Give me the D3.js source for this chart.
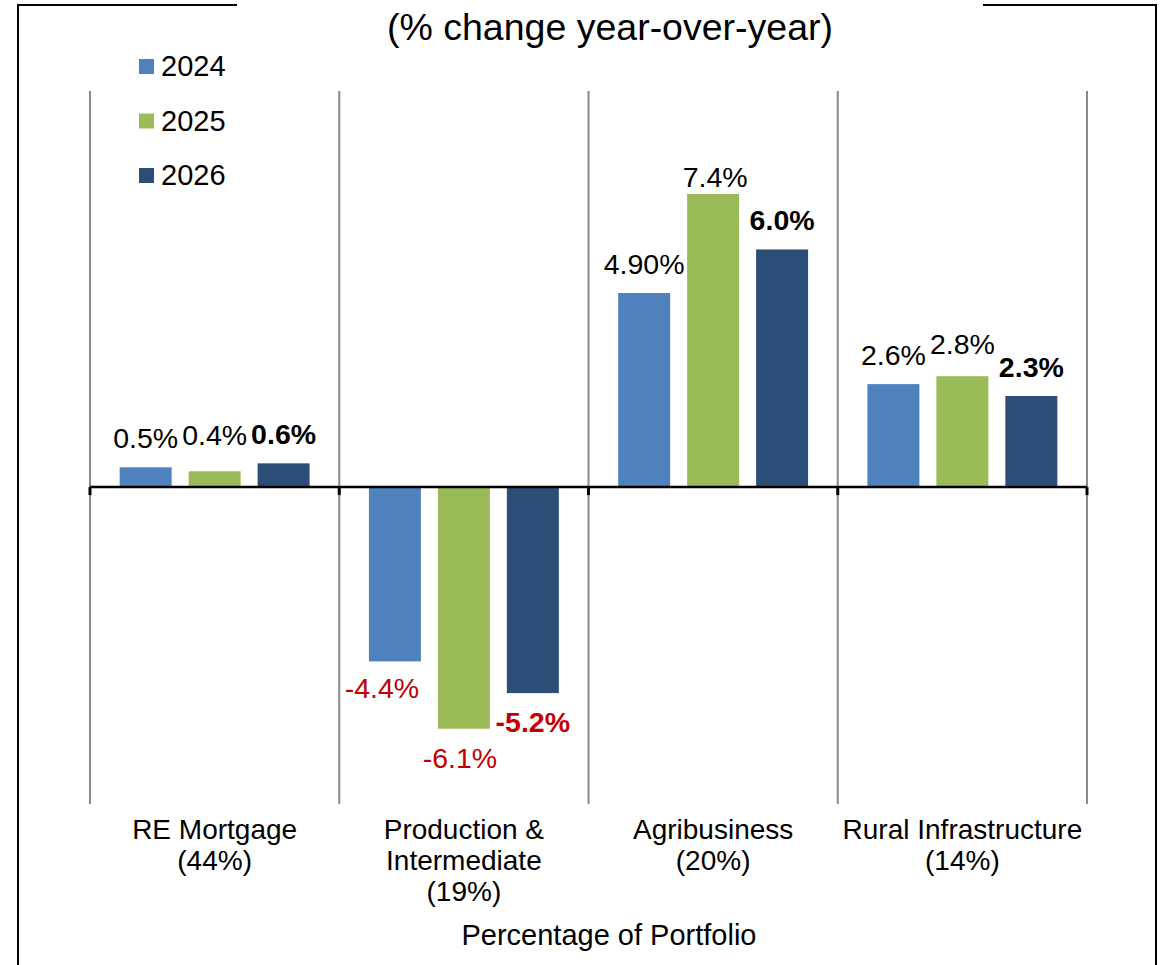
<!DOCTYPE html>
<html>
<head>
<meta charset="utf-8">
<script src="https://cdn.jsdelivr.net/npm/d3@7"></script>
<style>
  body { margin: 0; background: #fff; }
  text { font-family: "Liberation Sans", Arial, sans-serif; }
</style>
</head>
<body>
<div id="chart"></div>
<script>
const width = 1165;
const height = 965;

// data
const categories = ["RE Mortgage", "Production & Intermediate", "Agribusiness", "Rural Infrastructure"];
const categoryLines = [
  ["RE Mortgage", "(44%)"],
  ["Production &", "Intermediate", "(19%)"],
  ["Agribusiness", "(20%)"],
  ["Rural Infrastructure", "(14%)"]
];
const series = ["2024", "2025", "2026"];
const values2024 = [0.5, -4.4, 4.9, 2.6];
const values2025 = [0.4, -6.1, 7.4, 2.8];
const values2026 = [0.6, -5.2, 6.0, 2.3];
const labels2024 = ["0.5%", "-4.4%", "4.90%", "2.6%"];
const labels2025 = ["0.4%", "-6.1%", "7.4%", "2.8%"];
const labels2026 = ["0.6%", "-5.2%", "6.0%", "2.3%"];
const yDomain = [-8, 10];
const subtitle = "(% change year-over-year)";
const xTitle = "Percentage of Portfolio";

const colors = ["#4f81bd", "#9bbb59", "#2c4d75"];
const boldSeries = "2026";

// small manual nudges of the data labels, as placed in the original [dx, dy]
const labelNudge = {
  "RE Mortgage|2025": [0, -7],
  "Production & Intermediate|2024": [-13, -2],
  "Production & Intermediate|2025": [-4, 0],
  "Agribusiness|2025": [2, 12],
  "Rural Infrastructure|2025": [0, -3]
};

const margin = { left: 90, right: 78, top: 91, bottom: 161 };

const svg = d3.select("#chart").append("svg")
    .attr("width", width)
    .attr("height", height);

// outer frame, broken at the top by the title box
svg.append("rect")
    .attr("x", 18).attr("y", 5)
    .attr("width", 1138).attr("height", height + 10)
    .attr("fill", "none")
    .attr("stroke", "black")
    .attr("stroke-width", 2);

svg.append("rect")
    .attr("x", 237).attr("y", 0)
    .attr("width", 746).attr("height", 12)
    .attr("fill", "white");

svg.append("text")
    .attr("x", 610)
    .attr("y", 40)
    .attr("text-anchor", "middle")
    .style("font-size", "37.5px")
    .attr("fill", "black")
    .text(subtitle);

const x = d3.scaleBand()
    .domain(categories)
    .range([margin.left, width - margin.right])
    .padding(0);

const x1 = d3.scaleBand()
    .domain(series)
    .range([0, x.bandwidth()])
    .paddingInner(17 / 69)
    .paddingOuter(0.43);

const y = d3.scaleLinear()
    .domain(yDomain)
    .range([height - margin.bottom, margin.top]);

// vertical separators between categories
const bounds = categories.map(d => x(d)).concat([x.range()[1]]);

svg.append("g")
    .attr("class", "grid")
  .selectAll("line")
  .data(bounds)
  .join("line")
    .attr("x1", d => d)
    .attr("x2", d => d)
    .attr("y1", y(yDomain[1]))
    .attr("y2", y(yDomain[0]))
    .attr("stroke", "#8a8a8a")
    .attr("stroke-width", 2);

// bars
const table = categories.map((c, i) => ({
  category: c,
  bars: [
    { key: series[0], value: values2024[i], label: labels2024[i] },
    { key: series[1], value: values2025[i], label: labels2025[i] },
    { key: series[2], value: values2026[i], label: labels2026[i] }
  ]
}));

const groups = svg.selectAll(".cat")
  .data(table)
  .join("g")
    .attr("class", "cat")
    .attr("transform", d => `translate(${x(d.category)},0)`);

groups.selectAll("rect")
  .data(d => d.bars)
  .join("rect")
    .attr("x", d => x1(d.key))
    .attr("width", x1.bandwidth())
    .attr("y", d => y(Math.max(0, d.value)))
    .attr("height", d => Math.abs(y(d.value) - y(0)))
    .attr("fill", (d, i) => colors[i]);

groups.selectAll(".label")
  .data(d => d.bars.map(b => Object.assign({ category: d.category }, b)))
  .join("text")
    .attr("class", "label")
    .attr("text-anchor", "middle")
    .attr("x", d => x1(d.key) + x1.bandwidth() / 2 + (labelNudge[d.category + "|" + d.key] || [0, 0])[0])
    .attr("y", d => (d.value >= 0 ? y(d.value) - 19 : y(d.value) + 39) + (labelNudge[d.category + "|" + d.key] || [0, 0])[1])
    .style("font-size", "28.5px")
    .style("font-weight", d => d.key === boldSeries ? "bold" : "normal")
    .attr("fill", d => d.value < 0 ? "#c00000" : "black")
    .text(d => d.label);

// zero line with small ticks at the category boundaries
const zero = svg.append("g").attr("class", "zero");

zero.selectAll("line.tick")
  .data(bounds)
  .join("line")
    .attr("class", "tick")
    .attr("x1", d => d)
    .attr("x2", d => d)
    .attr("y1", y(0))
    .attr("y2", y(0) + 8)
    .attr("stroke", "black")
    .attr("stroke-width", 3);

zero.append("line")
    .attr("x1", x.range()[0])
    .attr("x2", x.range()[1])
    .attr("y1", y(0))
    .attr("y2", y(0))
    .attr("stroke", "black")
    .attr("stroke-width", 2.5);

// category labels, kept at the bottom of the plot
const xAxis = svg.append("g")
    .attr("class", "axis axis--x")
    .attr("transform", `translate(0, ${height - margin.bottom})`)
    .call(d3.axisBottom(x).tickSize(0).tickPadding(0));

xAxis.select(".domain").remove();
xAxis.selectAll(".tick text")
    .attr("y", 35)
    .attr("dy", null)
    .style("font-size", "28px")
    .style("font-family", "'Liberation Sans', Arial, sans-serif")
    .attr("fill", "black")
    .text(null)
    .selectAll("tspan")
    .data((d, i) => categoryLines[i])
    .join("tspan")
      .attr("x", 0)
      .attr("dy", (_, i) => i === 0 ? 0 : 31)
      .text(d => d);

svg.append("text")
    .attr("x", 609)
    .attr("y", 945)
    .attr("text-anchor", "middle")
    .style("font-size", "29px")
    .attr("fill", "black")
    .text(xTitle);

// legend
const legend = svg.append("g")
    .attr("class", "legend")
    .attr("transform", "translate(139, 59)");

const items = legend.selectAll("g")
  .data(series)
  .join("g")
    .attr("transform", (_, i) => `translate(0, ${i * 54.5})`);

items.append("rect")
    .attr("width", 15)
    .attr("height", 15)
    .attr("fill", (_, i) => colors[i]);

items.append("text")
    .attr("x", 22)
    .attr("y", 17)
    .style("font-size", "29px")
    .attr("fill", "black")
    .text(d => d);
</script>
</body>
</html>
